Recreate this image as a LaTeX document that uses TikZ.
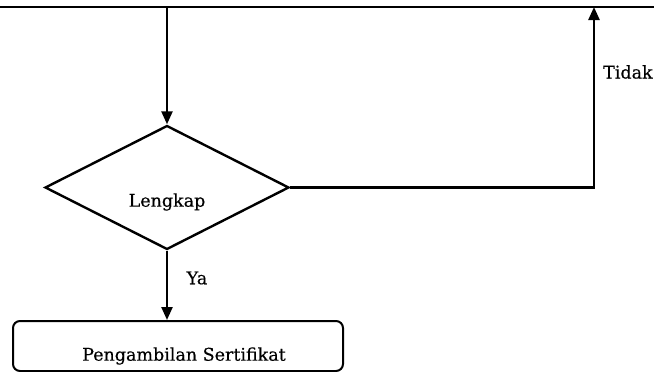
\documentclass[tikz,border=0pt]{standalone}
\usepackage{fontspec}
\setmainfont{DejaVu Serif}
\newfontfamily\lblfont{DejaVu Serif}[UprightFeatures={FakeBold=0.35}]
\usetikzlibrary{shapes.geometric,arrows.meta}
\begin{document}
\begin{tikzpicture}[x=1pt,y=-1pt,
  flowline/.style={line width=2.4pt,black},
  flowarrow/.style={flowline,-{Triangle[length=13pt,width=11pt]}},
  decision/.style={diamond,draw,line width=2.4pt,inner sep=0pt,
    minimum width=244pt,minimum height=124pt},
  process/.style={rectangle,rounded corners=7pt,draw,line width=2pt,
    minimum width=330pt,minimum height=50pt,inner sep=0pt},
  lbl/.style={font=\lblfont\fontsize{17.5}{20}\selectfont,inner sep=0pt}]
  \useasboundingbox (0,0) rectangle (654,372);

  % flow line along the top edge
  \coordinate (topleft) at (0,7);
  \coordinate (topright) at (654,7);
  \coordinate (join) at (167,7);
  \coordinate (back) at (594,7);
  \draw[flowline] (topleft) -- (topright);

  % decision and final step
  \node[decision] (check) at (167,187.5) {};
  \node[lbl] (checktext) at (167,202) {Lengkap};
  \node[process] (cert) at (178,346) {};
  \node[lbl] (certtext) at (184,356) {Pengambilan Sertifikat};

  % connectors
  \draw[flowarrow] (join) -- (check.north);
  \draw[flowarrow] (check.east) -| (back);
  \draw[flowarrow] (check.south) -- (check.south |- cert.north);

  % branch labels
  \node[lbl] (yes) at (197,278) {Ya};
  \node[lbl,anchor=west] (no) at (603,72) {Tidak};
\end{tikzpicture}
\end{document}
